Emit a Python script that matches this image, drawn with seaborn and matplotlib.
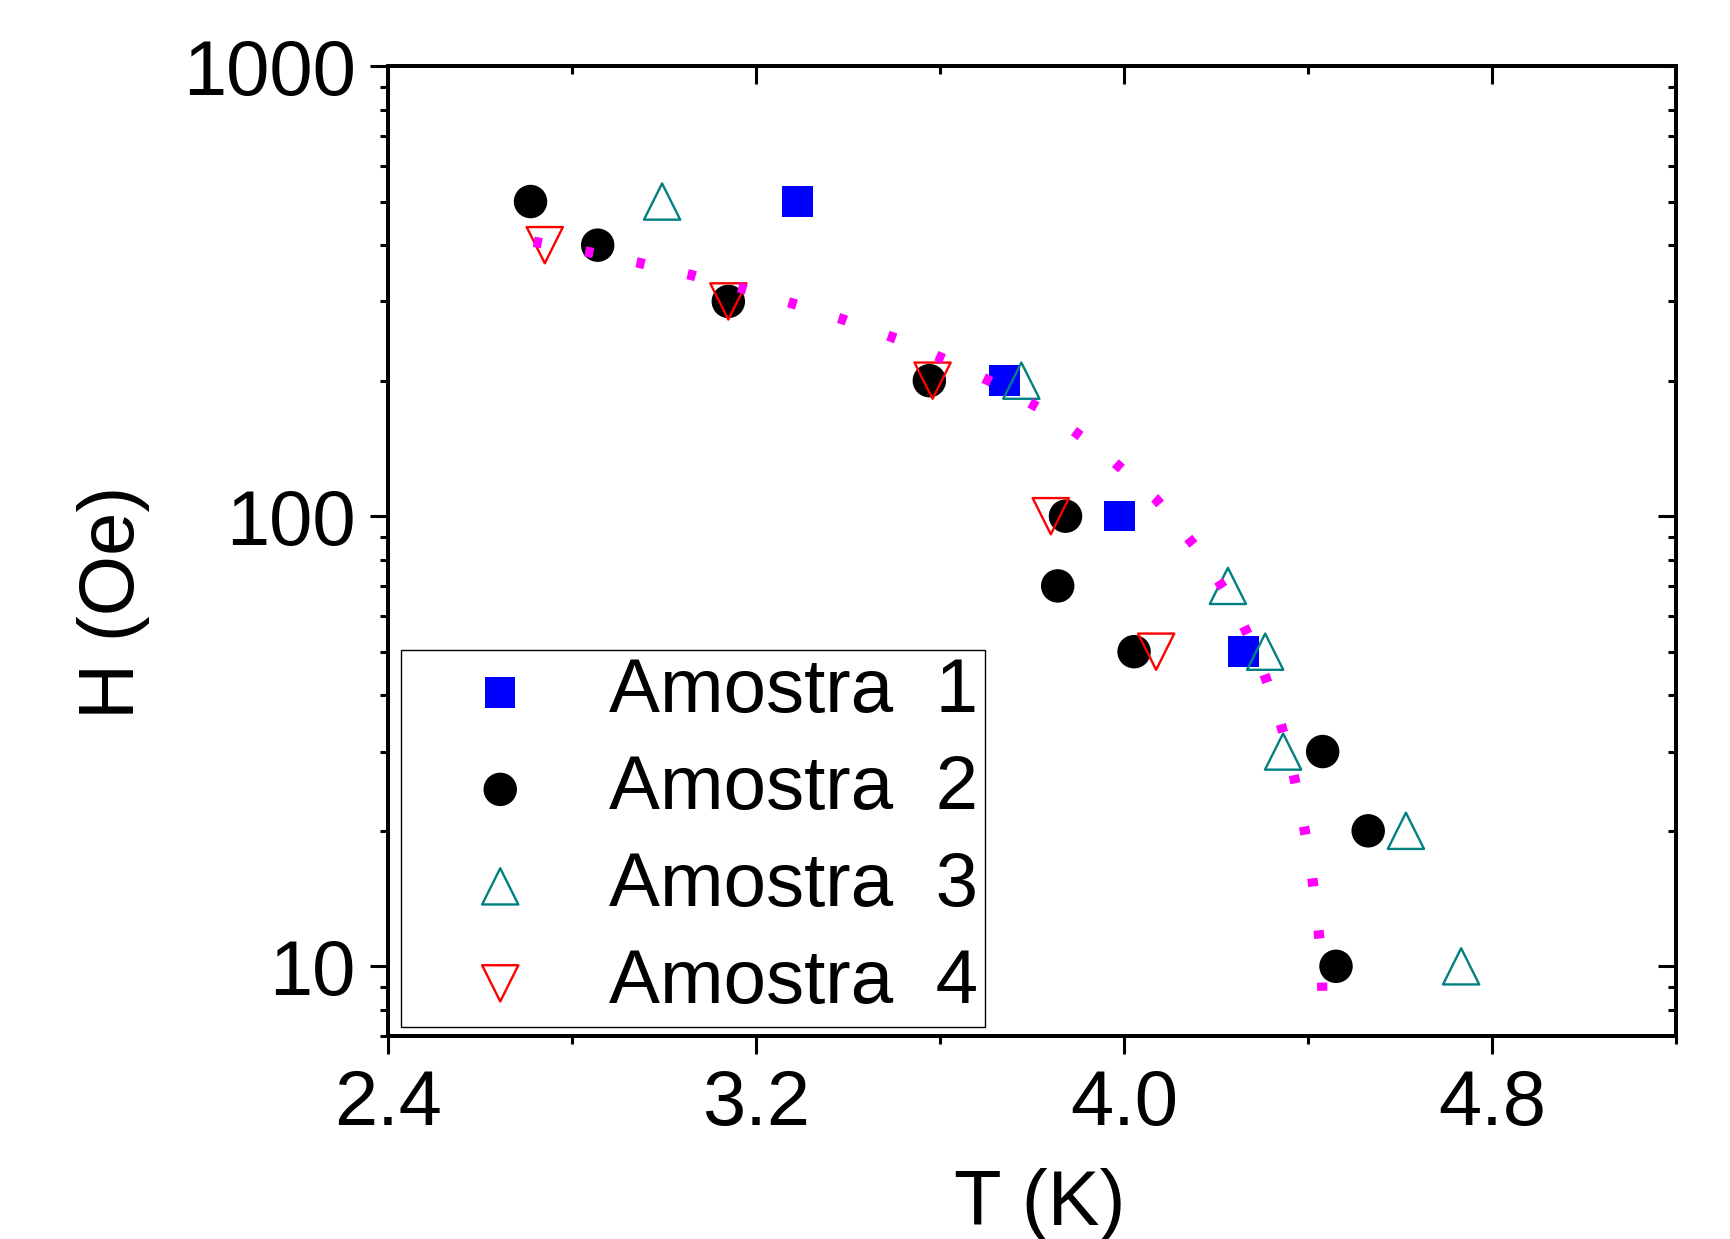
import matplotlib
matplotlib.use('Agg')
import matplotlib.pyplot as plt
import seaborn as sns
from matplotlib.ticker import FixedLocator, NullFormatter, LogLocator

# values
t1 = [3.29, 3.74, 3.99, 4.26]
h1 = [500, 200, 100, 50]

t2 = [2.71, 2.856, 3.14, 3.577, 3.873, 3.856, 4.022, 4.432, 4.531, 4.461]
h2 = [500, 400, 300, 200, 100, 70, 50, 30, 20, 10]

t3 = [2.996, 3.777, 4.226, 4.307, 4.346, 4.613, 4.733]
h3 = [500, 200, 70, 50, 30, 20, 10]

t4 = [2.741, 3.14, 3.584, 3.841, 4.07]
h4 = [400, 300, 200, 100, 50]

# dotted guide curve
fit_t = [2.717, 2.832, 2.943, 3.056, 3.169, 3.279, 3.392, 3.505, 3.620, 3.733,
         3.846, 3.957, 4.070, 4.163, 4.235, 4.288, 4.329, 4.360, 4.384, 4.404,
         4.418, 4.430, 4.432]
fit_h = [407, 387, 366, 344, 321, 297, 273, 248, 221, 194,
         167, 138, 109, 83.7, 64.6, 49.8, 38.2, 29.4, 22.5, 17.4,
         13.4, 10.3, 7.9]

x_ticks = [2.4, 3.2, 4.0, 4.8]
x_minor = [2.8, 3.6, 4.4, 5.2]
y_ticks = [10, 100, 1000]
y_labels = ['10', '100', '1000']

sns.set_style('ticks')
plt.rcParams['font.family'] = ['Liberation Sans', 'DejaVu Sans']
plt.rcParams.update({'text.color': 'black', 'axes.labelcolor': 'black',
                     'xtick.color': 'black', 'ytick.color': 'black'})
FS = 56

fig = plt.figure(figsize=(17.31, 12.39), dpi=100)
ax = fig.add_axes([0.2241, 0.1638, 0.7441, 0.7829])

sns.scatterplot(x=t1, y=h1, marker='s', s=480, color='#0000FF',
                edgecolor='none', linewidth=0, label='Amostra  1', ax=ax)
sns.scatterplot(x=t2, y=h2, marker='o', s=580, color='black',
                edgecolor='none', linewidth=0, label='Amostra  2', ax=ax)
sns.scatterplot(x=t3, y=h3, marker='^', s=680, facecolor='none',
                edgecolor='#008080', linewidth=1.7, label='Amostra  3', ax=ax)
sns.scatterplot(x=t4, y=h4, marker='v', s=680, facecolor='none',
                edgecolor='#FF0000', linewidth=1.7, label='Amostra  4', ax=ax)
sns.lineplot(x=fit_t, y=fit_h, sort=False, estimator=None, color='#FF00FF',
             lw=7.4, linestyle=(0, (0.8, 4.3)), zorder=3, ax=ax)

ax.set_yscale('log')
ax.set_xlim(2.4, 5.2)
ax.set_ylim(7, 1000)
ax.set_yticks(y_ticks, y_labels)
ax.yaxis.set_minor_locator(LogLocator(base=10, subs=range(2, 10)))
ax.yaxis.set_minor_formatter(NullFormatter())
ax.set_xticks(x_ticks, ['2.4', '3.2', '4.0', '4.8'])
ax.xaxis.set_minor_locator(FixedLocator(x_minor))

ax.tick_params(which='major', direction='out', length=13, width=2.2,
               labelsize=FS, pad=10)
ax.tick_params(which='minor', direction='out', length=5.5, width=2.2)

ax.set_xlabel('T (K)', fontsize=FS)
ax.set_ylabel('H (Oe)', fontsize=FS)
ax.xaxis.set_label_coords(0.506, -0.136)
ax.yaxis.set_label_coords(-0.185, 0.447)

# top and right: inward ticks
ax_r = ax.twinx()
ax_r.set_yscale('log')
ax_r.set_ylim(7, 1000)
ax_r.set_yticks(y_ticks)
ax_r.yaxis.set_minor_locator(LogLocator(base=10, subs=range(2, 10)))
ax_r.tick_params(which='major', direction='in', length=13, width=2.2,
                 labelright=False)
ax_r.tick_params(which='minor', direction='in', length=5.5, width=2.2)
ax_r.yaxis.set_minor_formatter(NullFormatter())

ax_t = ax.twiny()
ax_t.set_xlim(2.4, 5.2)
ax_t.set_xticks(x_ticks)
ax_t.xaxis.set_minor_locator(FixedLocator(x_minor))
ax_t.tick_params(which='major', direction='in', length=13, width=2.2,
                 labeltop=False)
ax_t.tick_params(which='minor', direction='in', length=6, width=2.2)

for a in (ax, ax_r, ax_t):
    for sp in a.spines.values():
        sp.set_linewidth(2.6)
        sp.set_color('black')

leg = ax.legend(loc='lower left', bbox_to_anchor=(0.0101, 0.0093),
                borderaxespad=0, fontsize=55, frameon=True, fancybox=False,
                framealpha=1, edgecolor='black', borderpad=0.1,
                handlelength=2.4, handletextpad=0.22, labelspacing=0.34,
                scatterpoints=1)
leg.get_frame().set_linewidth(1.0)

fig.savefig('out.png', dpi=100)
